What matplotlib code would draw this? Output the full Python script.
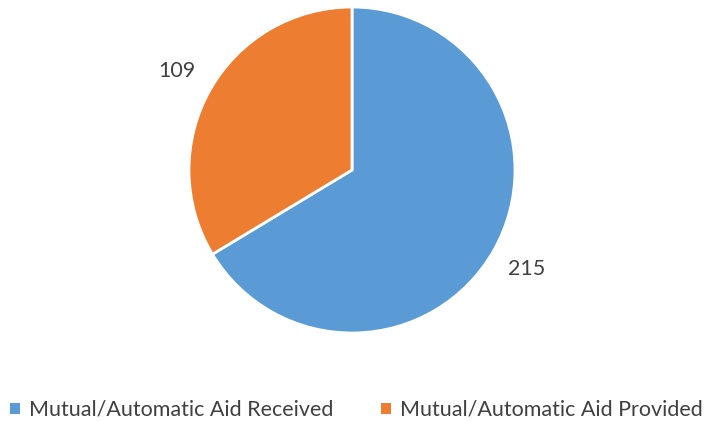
import matplotlib
matplotlib.use("Agg")
import matplotlib.pyplot as plt
from matplotlib.patches import Patch

# data
categories = ["Mutual/Automatic Aid Received", "Mutual/Automatic Aid Provided"]
values = [215, 109]
colors = ["#5B9BD5", "#ED7D31"]

plt.rcParams['font.family'] = ['Lato', 'DejaVu Sans']

fig = plt.figure(figsize=(7.13, 4.22), dpi=100)

# pie axes placed so the circle sits where it does in the reference
cx, cy, r = 352, 170, 163
ax = fig.add_axes([(cx - r) / 713, (422 - cy - r) / 422, 2 * r / 713, 2 * r / 422])

wedges, texts = ax.pie(values, colors=colors, startangle=90, counterclock=False,
                       labels=[str(v) for v in values], labeldistance=1.23,
                       wedgeprops=dict(edgecolor="white", linewidth=2),
                       textprops=dict(fontsize=15.5, color="#404040"))
for t in texts:
    t.set_ha("center")
    t.set_va("center")
ax.set_aspect("equal")
ax.set_xlim(-1, 1)
ax.set_ylim(-1, 1)
ax.axis("off")

# legend along the bottom
handles = [Patch(facecolor=c, edgecolor="none") for c in colors]
fig.legend(handles, categories, loc="center", bbox_to_anchor=(0.5, 1 - 410 / 422),
           ncol=2, frameon=False, fontsize=15.5, labelcolor="#404040",
           handlelength=0.45, handleheight=0.45, handletextpad=0.45, columnspacing=2.2,
           borderpad=0, borderaxespad=0)

plt.savefig("out.png", dpi=100)
